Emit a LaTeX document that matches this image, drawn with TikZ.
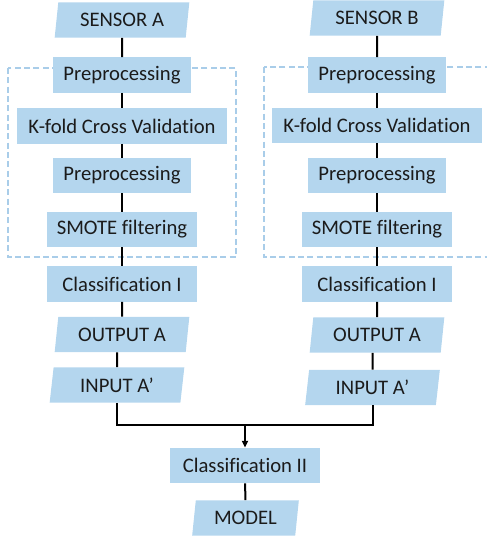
\documentclass[tikz,border=0pt]{standalone}
\usepackage{fontspec}
\setmainfont[Ligatures=NoCommon]{Carlito}
\usetikzlibrary{positioning,shapes.geometric,arrows.meta,backgrounds}
\definecolor{FBox}{HTML}{B4D6EE}
\definecolor{FDash}{HTML}{A9CDE9}
\definecolor{FInk}{HTML}{1B1B1B}

\begin{document}
\begin{tikzpicture}[x=0.75pt, y=-0.75pt,
  every node/.style={font=\fontsize{15.5}{18}\selectfont, text=FInk},
  proc/.style={fill=FBox, minimum height=26.5pt, inner sep=0pt},
  io/.style={trapezium, trapezium left angle=75, trapezium right angle=105,
             trapezium stretches body, fill=FBox, minimum width=101pt,
             minimum height=26.5pt, inner sep=0pt},
  link/.style={draw=black, line width=1.5pt},
  group/.style={draw=FDash, line width=1.1pt, dash pattern=on 4.5pt off 2.5pt},
]
\useasboundingbox (0,0) rectangle (486,536);
% sensor A branch
\node[io] (sensA) at (122,20) {SENSOR A};
\node[proc, minimum width=104pt] (preA1) at (122,75) {Preprocessing};
\node[proc, minimum width=157pt] (kfoldA) at (122,126) {K-fold Cross Validation};
\node[proc, minimum width=104pt] (preA2) at (122,175.5) {Preprocessing};
\node[proc, minimum width=112pt] (smoteA) at (122,229.5) {SMOTE filtering};
\node[proc, minimum width=112.5pt] (clsA) at (122,284) {Classification I};
\node[io] (outA) at (122,334.5) {OUTPUT A};
\node[io] (inA) at (117,385) {INPUT A’};
% sensor B branch
\node[io] (sensB) at (377,18) {SENSOR B};
\node[proc, minimum width=104pt] (preB1) at (377,75) {Preprocessing};
\node[proc, minimum width=157pt] (kfoldB) at (377,125.5) {K-fold Cross Validation};
\node[proc, minimum width=104pt] (preB2) at (377,175.5) {Preprocessing};
\node[proc, minimum width=112pt] (smoteB) at (377,229.5) {SMOTE filtering};
\node[proc, minimum width=112.5pt] (clsB) at (377,284) {Classification I};
\node[io] (outB) at (377,335) {OUTPUT A};
\node[io] (inB) at (372.5,387.5) {INPUT A’};
% fusion
\node[proc, minimum width=112pt] (clsII) at (245,465.5) {Classification II};
\node[io, minimum width=80pt] (model) at (245.5,518) {MODEL};
\coordinate (merge) at (245,425);

\begin{scope}[on background layer]
\draw[group] (8,68) rectangle (236,257);
\draw[group] (264,67) rectangle (500,257);
\end{scope}

\foreach \src/\dst in {sensA/preA1, preA1/kfoldA, kfoldA/preA2, preA2/smoteA, smoteA/clsA, clsA/outA,
                      sensB/preB1, preB1/kfoldB, kfoldB/preB2, preB2/smoteB, smoteB/clsB, clsB/outB}
  {\draw[link] (\src) -- (\dst);}
\draw[link] (outA.south -| inA) -- (inA);
\draw[link] (outB.south -| inB) -- (inB);
\draw[link] (inA.south) |- (merge) -| (inB.south);
\draw[link, -{Triangle[length=5pt, width=4.5pt]}] (merge) -- (clsII);
\draw[link] (clsII) -- (model);
\end{tikzpicture}
\end{document}
